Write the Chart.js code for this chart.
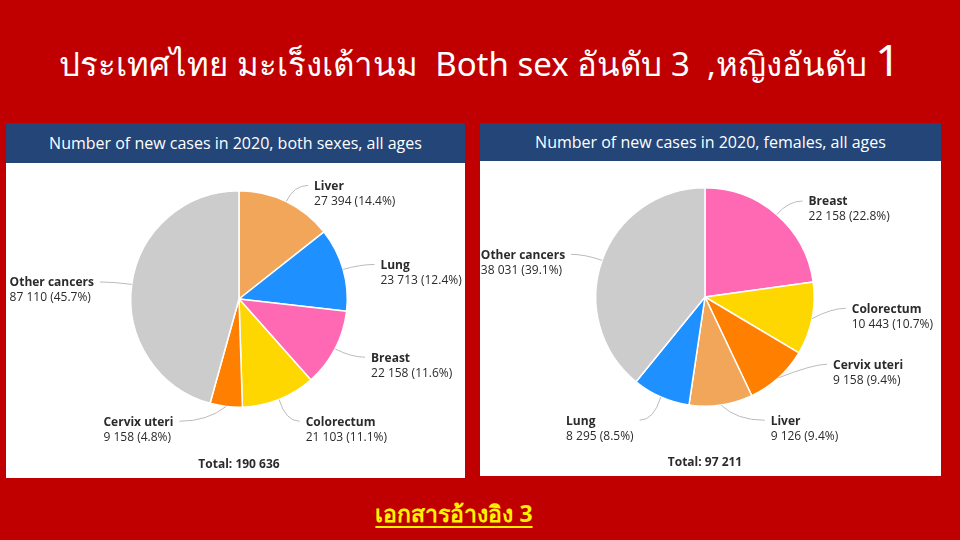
<!DOCTYPE html>
<html>
<head>
<meta charset="utf-8">
<script src="https://cdn.jsdelivr.net/npm/chart.js@4"></script>
<style>
  html,body{margin:0;padding:0;}
  body{width:960px;height:540px;background:#C00000;position:relative;overflow:hidden;font-family:"Open Sans","Noto Sans",sans-serif;}
  #title{position:absolute;left:0;top:27px;width:960px;text-align:center;color:#fff;font-size:33px;line-height:64px;font-family:"Noto Sans","DejaVu Sans",sans-serif;white-space:nowrap;}
  #title .one{font-size:44px;}
  .panel{position:absolute;background:#fff;}
  .hdr{position:absolute;left:0;top:0;right:0;background:#234578;color:#fff;text-align:center;font-size:16px;font-family:"Open Sans",sans-serif;}
  .panel canvas{position:absolute;left:0;}
  #ref{position:absolute;left:0;top:496px;width:908px;text-align:center;color:#FFF200;font-size:23px;font-weight:bold;text-decoration:underline;text-underline-offset:4px;font-family:"Noto Sans","DejaVu Sans",sans-serif;}
</style>
</head>
<body>
<div id="title">ประเทศไทย มะเร็งเต้านม&nbsp; Both sex อันดับ 3&nbsp; ,หญิงอันดับ <span class="one">1</span></div>

<div class="panel" id="p1" style="left:6px;top:123px;width:459px;height:355px;">
  <div class="hdr" style="height:40px;line-height:40px;">Number of new cases in 2020, both sexes, all ages</div>
  <canvas id="c1" style="top:40px;"></canvas>
</div>
<div class="panel" id="p2" style="left:480px;top:123px;width:461px;height:353px;">
  <div class="hdr" style="height:38px;line-height:38px;">Number of new cases in 2020, females, all ages</div>
  <canvas id="c2" style="top:38px;"></canvas>
</div>

<div id="ref">เอกสารอ้างอิง 3</div>

<script>
// ---- data ----
const bothLabels = ["Liver", "Lung", "Breast", "Colorectum", "Cervix uteri", "Other cancers"];
const bothValues = [27394, 23713, 22158, 21103, 9158, 87110];
const bothColors = ["#F2A65A", "#1E90FF", "#FF69B4", "#FFD700", "#FF7F00", "#CCCCCC"];

const femLabels = ["Breast", "Colorectum", "Cervix uteri", "Liver", "Lung", "Other cancers"];
const femValues = [22158, 10443, 9158, 9126, 8295, 38031];
const femColors = ["#FF69B4", "#FFD700", "#FF7F00", "#F2A65A", "#1E90FF", "#CCCCCC"];

function fmt(n){ return String(n).replace(/\B(?=(\d{3})+(?!\d))/g, " "); }

const labelPlugin = {
  id: 'pieLabels',
  afterDraw(chart) {
    const ctx = chart.ctx;
    const meta = chart.getDatasetMeta(0);
    const ds = chart.data.datasets[0];
    const total = ds.data.reduce((a,b)=>a+b,0);
    const items = [];
    meta.data.forEach((arc, i) => {
      const p = arc.getProps(['x','y','startAngle','endAngle','outerRadius'], true);
      const mid = (p.startAngle + p.endAngle) / 2;
      const R = p.outerRadius;
      const cos = Math.cos(mid), sin = Math.sin(mid);
      const yn = p.y + (R + 18) * sin;
      items.push({
        i, right: cos >= 0, cx: p.x, cy: p.y, R,
        x0: p.x + R * cos, y0: p.y + R * sin,
        y1: yn, yNat: yn, extra: 0, snap: false,
        name: chart.data.labels[i],
        val: fmt(ds.data[i]) + " (" + (ds.data[i] / total * 100).toFixed(1) + "%)"
      });
    });
    const cy = items[0].cy, R = items[0].R;
    const maxY = cy + R + 14, minY = cy - R - 14;
    items.forEach(o => {
      if (o.y1 > maxY) { o.y1 = maxY; o.extra = 14; }
      else if (o.y1 > maxY - 8) { o.y1 = maxY; o.snap = true; }
      if (o.y1 < minY) { o.y1 = minY; o.extra = 14; }
    });
    // overlap resolution per side
    const gap = 56;
    [true, false].forEach(side => {
      const s = items.filter(o => o.right === side).sort((a,b)=>a.y1-b.y1);
      for (let k = 1; k < s.length; k++) {
        if (s[k].y1 - s[k-1].y1 < gap) s[k].y1 = s[k-1].y1 + gap;
      }
      for (let k = s.length - 1; k >= 0; k--) {
        if (s[k].y1 > maxY) s[k].y1 = maxY;
        if (k < s.length - 1 && s[k+1].y1 - s[k].y1 < gap) s[k].y1 = s[k+1].y1 - gap;
      }
    });
    ctx.save();
    items.forEach(o => {
      const D = o.R + 18;
      const dy = (o.snap ? o.yNat : o.y1) - o.cy;
      const dx = Math.sqrt(Math.max(D*D - dy*dy, 0));
      const x1 = o.right ? o.cx + dx : o.cx - dx;
      const h = 14 + o.extra;
      const x2 = o.right ? x1 + h : x1 - h;
      ctx.strokeStyle = '#BBBBBB';
      ctx.lineWidth = 1;
      ctx.beginPath();
      ctx.moveTo(o.x0, o.y0);
      ctx.quadraticCurveTo(x1, o.y1, x2, o.y1);
      ctx.stroke();
      ctx.fillStyle = '#2B2B2B';
      ctx.textBaseline = 'middle';
      ctx.font = 'bold 12px "Open Sans", sans-serif';
      const w1 = ctx.measureText(o.name).width;
      ctx.font = '12px "Open Sans", sans-serif';
      const w2 = ctx.measureText(o.val).width;
      const bw = Math.max(w1, w2);
      const tx = o.right ? x2 + 6 : x2 - 6 - bw;
      ctx.textAlign = 'left';
      ctx.font = 'bold 12px "Open Sans", sans-serif';
      ctx.fillText(o.name, tx, o.y1 + 1);
      ctx.font = '12px "Open Sans", sans-serif';
      ctx.fillText(o.val, tx, o.y1 + 16);
    });
    ctx.font = 'bold 12px "Open Sans", sans-serif';
    ctx.textAlign = 'center';
    ctx.fillStyle = '#2B2B2B';
    ctx.fillText('Total: ' + fmt(total), items[0].cx, chart.height - 13);
    ctx.restore();
  }
};

function makePie(id, labels, values, colors, w, h, pad) {
  const cv = document.getElementById(id);
  cv.width = w; cv.height = h;
  cv.style.width = w + 'px'; cv.style.height = h + 'px';
  return new Chart(cv, {
    type: 'pie',
    data: { labels, datasets: [{ data: values, backgroundColor: colors, borderColor: '#FFFFFF', borderWidth: 1.5, hoverOffset: 0 }] },
    options: {
      responsive: false, animation: false, devicePixelRatio: 1,
      layout: { padding: pad },
      plugins: { legend: { display: false }, tooltip: { enabled: false } }
    },
    plugins: [labelPlugin]
  });
}

makePie('c1', bothLabels, bothValues, bothColors, 459, 315, { top: 27, bottom: 70, left: 7, right: 0 });
makePie('c2', femLabels, femValues, femColors, 461, 315, { top: 26, bottom: 69, left: 0, right: 11 });
</script>
</body>
</html>
